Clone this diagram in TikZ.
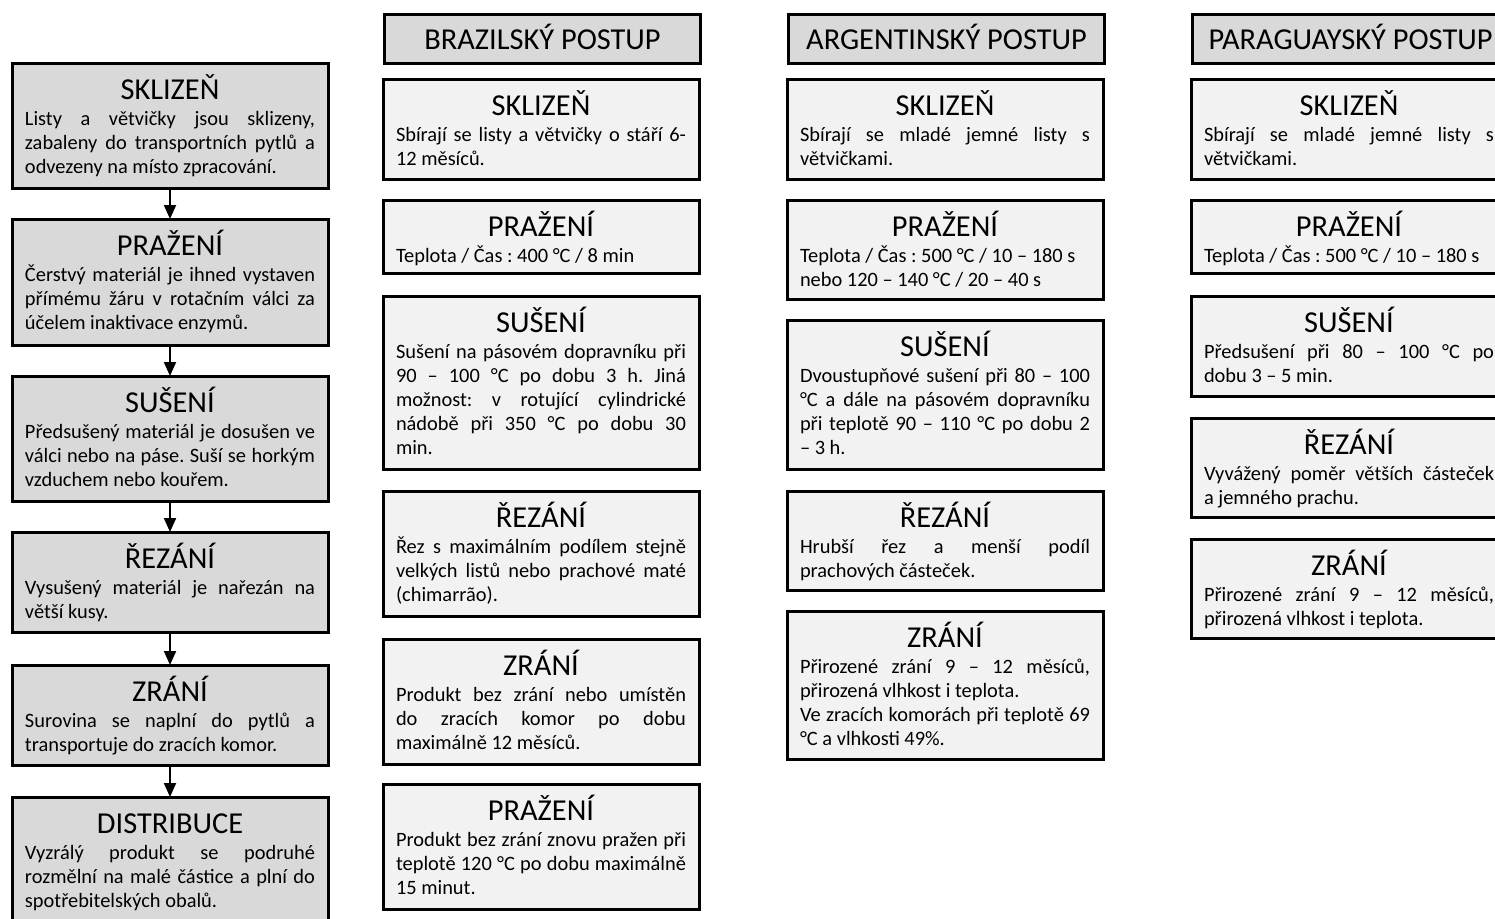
\documentclass[tikz,border=0pt]{standalone}
\usepackage{fontspec}
\setmainfont{Carlito}
\usetikzlibrary{arrows.meta}
\definecolor{hdrgray}{HTML}{D9D9D9}
\definecolor{boxgray}{HTML}{F2F2F2}
\newcommand{\titlef}{\fontsize{15.2}{18}\selectfont}
\newcommand{\lnJ}[1]{\makebox[\linewidth][s]{#1}\par}
\newcommand{\lnN}[1]{\makebox[\linewidth][l]{#1}\par}
\newcommand{\stepbody}[3]{\parbox[c][#1][t]{145pt}{\frenchspacing\fontsize{10.2}{12}\selectfont\lineskiplimit=-100pt\makebox[\linewidth]{\rule{0pt}{18pt}\titlef #2}\par\vspace{1pt}#3}}
\tikzset{
  stepbox/.style={draw=black, line width=1.5pt, anchor=north west, inner sep=0pt, inner xsep=6.5pt, outer sep=0pt},
  leftbox/.style={stepbox, fill=hdrgray},
  procbox/.style={stepbox, fill=boxgray},
  hdrbox/.style={draw=black, line width=1.5pt, fill=hdrgray, anchor=north west, minimum width=158pt, minimum height=24.5pt, inner sep=0pt, text height=10pt, text depth=0pt, font=\titlef},
  arr/.style={-{Triangle[width=6pt,length=7pt]}, line width=1pt}
}
\frenchspacing
\begin{document}
\begin{tikzpicture}[x=0.5pt,y=-0.5pt]
\useasboundingbox (0,0) rectangle (1495,918);
\clip (0,0) rectangle (1495,918);
% left column
\node[leftbox] (l1) at (12,63) {\stepbody{62.5pt}{SKLIZEŇ}{\lnJ{Listy a větvičky jsou sklizeny,}\lnJ{zabaleny do transportních pytlů a}\lnN{odvezeny na místo zpracování.}}};
\node[leftbox] (l2) at (12,219) {\stepbody{63pt}{PRAŽENÍ}{\lnJ{Čerstvý materiál je ihned vystaven}\lnJ{přímému žáru v rotačním válci za}\lnN{účelem inaktivace enzymů.}}};
\node[leftbox] (l3) at (12,376) {\stepbody{62.5pt}{SUŠENÍ}{\lnJ{Předsušený materiál je dosušen ve}\lnJ{válci nebo na páse. Suší se horkým}\lnN{vzduchem nebo kouřem.}}};
\node[leftbox] (l4) at (12,532) {\stepbody{50pt}{ŘEZÁNÍ}{\lnJ{Vysušený materiál je nařezán na}\lnN{větší kusy.}}};
\node[leftbox] (l5) at (12,665) {\stepbody{50pt}{ZRÁNÍ}{\lnJ{Surovina se naplní do pytlů a}\lnN{transportuje do zracích komor.}}};
\node[leftbox] (l6) at (12,797) {\stepbody{62.5pt}{DISTRIBUCE}{\lnJ{Vyzrálý produkt se podruhé}\lnJ{rozmělní na malé částice a plní do}\lnN{spotřebitelských obalů.}}};
\draw[arr] (l1.south) -- (l2.north);
\draw[arr] (l2.south) -- (l3.north);
\draw[arr] (l3.south) -- (l4.north);
\draw[arr] (l4.south) -- (l5.north);
\draw[arr] (l5.south) -- (l6.north);
% Brazil
\node[hdrbox] (bh) at (383,13) {BRAZILSKÝ POSTUP};
\node[procbox] (b1) at (383,79) {\stepbody{50pt}{SKLIZEŇ}{\lnJ{Sbírají se listy a větvičky o stáří 6-}\lnN{12 měsíců.}}};
\node[procbox] (b2) at (383,200) {\stepbody{36.5pt}{PRAŽENÍ}{\lnN{Teplota / Čas : 400 °C / 8 min}}};
\node[procbox] (b3) at (383,296) {\stepbody{86.5pt}{SUŠENÍ}{\lnJ{Sušení na pásovém dopravníku při}\lnJ{90 – 100 °C po dobu 3 h. Jiná}\lnJ{možnost: v rotující cylindrické}\lnJ{nádobě při 350 °C po dobu 30}\lnN{min.}}};
\node[procbox] (b4) at (383,491) {\stepbody{62.5pt}{ŘEZÁNÍ}{\lnJ{Řez s maximálním podílem stejně}\lnJ{velkých listů nebo prachové maté}\lnN{(chimarrão).}}};
\node[procbox] (b5) at (383,639) {\stepbody{62.5pt}{ZRÁNÍ}{\lnJ{Produkt bez zrání nebo umístěn}\lnJ{do zracích komor po dobu}\lnN{maximálně 12 měsíců.}}};
\node[procbox] (b6) at (383,784) {\stepbody{62.5pt}{PRAŽENÍ}{\lnJ{Produkt bez zrání znovu pražen při}\lnJ{teplotě 120 °C po dobu maximálně}\lnN{15 minut.}}};
% Argentina
\node[hdrbox] (ah) at (787,13) {ARGENTINSKÝ POSTUP};
\node[procbox] (a1) at (787,79) {\stepbody{50pt}{SKLIZEŇ}{\lnJ{Sbírají se mladé jemné listy s}\lnN{větvičkami.}}};
\node[procbox] (a2) at (787,200) {\stepbody{49.5pt}{PRAŽENÍ}{\lnN{Teplota / Čas : 500 °C / 10 – 180 s}\lnN{nebo 120 – 140 °C / 20 – 40 s}}};
\node[procbox] (a3) at (787,320) {\stepbody{74.5pt}{SUŠENÍ}{\lnJ{Dvoustupňové sušení při 80 – 100}\lnJ{°C a dále na pásovém dopravníku}\lnJ{při teplotě 90 – 110 °C po dobu 2}\lnN{– 3 h.}}};
\node[procbox] (a4) at (787,491) {\stepbody{49.5pt}{ŘEZÁNÍ}{\lnJ{Hrubší řez a menší podíl}\lnN{prachových částeček.}}};
\node[procbox] (a5) at (787,611) {\stepbody{74pt}{ZRÁNÍ}{\lnJ{Přirozené zrání 9 – 12 měsíců,}\lnN{přirozená vlhkost i teplota.}\lnJ{Ve zracích komorách při teplotě 69}\lnN{°C a vlhkosti 49\%.}}};
% Paraguay
\node[hdrbox] (ph) at (1191,13) {PARAGUAYSKÝ POSTUP};
\node[procbox] (p1) at (1191,79) {\stepbody{50pt}{SKLIZEŇ}{\lnJ{Sbírají se mladé jemné listy s}\lnN{větvičkami.}}};
\node[procbox] (p2) at (1191,200) {\stepbody{36.5pt}{PRAŽENÍ}{\lnN{Teplota / Čas : 500 °C / 10 – 180 s}}};
\node[procbox] (p3) at (1191,296) {\stepbody{50pt}{SUŠENÍ}{\lnJ{Předsušení při 80 – 100 °C po}\lnN{dobu 3 – 5 min.}}};
\node[procbox] (p4) at (1191,418) {\stepbody{49.5pt}{ŘEZÁNÍ}{\lnJ{Vyvážený poměr větších částeček}\lnN{a jemného prachu.}}};
\node[procbox] (p5) at (1191,539) {\stepbody{49.5pt}{ZRÁNÍ}{\lnJ{Přirozené zrání 9 – 12 měsíců,}\lnN{přirozená vlhkost i teplota.}}};
\end{tikzpicture}
\end{document}
